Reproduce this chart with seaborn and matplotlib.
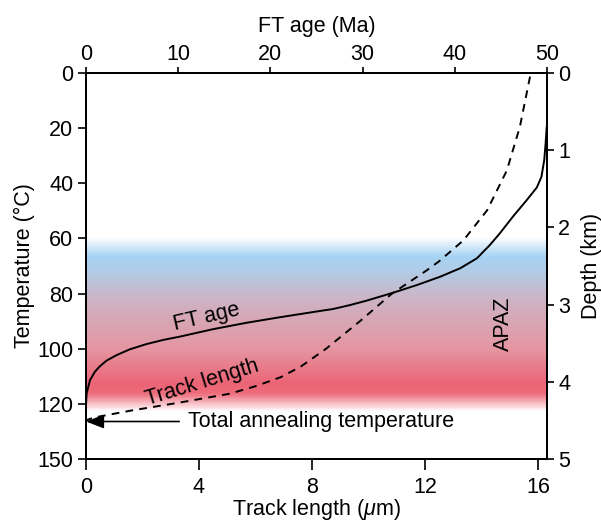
import numpy as np
import pandas as pd
import matplotlib
matplotlib.use("Agg")
import matplotlib.pyplot as plt
from matplotlib.colors import LinearSegmentedColormap
import seaborn as sns

# ---- data ----
ft_age_ma = [49.97, 49.85, 49.7, 49.4, 48.9, 47.8, 46.3, 44.9, 43.8, 42.4, 40.6, 38.4,
             35.9, 33.3, 30.4, 28.6, 26.8, 25.4, 21.0, 17.4, 13.8, 10.2, 8.39, 6.58,
             4.77, 3.33, 2.24, 1.52, 0.98, 0.43, 0.25, 0.07, 0.0]
ft_age_temp = [19.5, 25.5, 31.6, 37.6, 41.5, 46.1, 52.1, 58.1, 62.4, 67.2, 70.8, 73.9,
               76.9, 79.7, 82.6, 84.2, 85.6, 86.3, 88.6, 90.6, 92.9, 95.6, 96.8, 98.3,
               100.2, 102.3, 104.3, 106.3, 108.3, 111.4, 113.8, 116.2, 120.5]

track_len_um = [15.72, 15.36, 14.9, 14.2, 13.36, 12.5, 12.06, 10.82, 9.7, 8.5, 7.6,
                6.9, 6.0, 5.1, 3.33, 1.56, 0.26, 0.0]
track_len_temp = [1.3, 19.5, 35.3, 49.8, 60.7, 68.3, 71.6, 80.1, 90.0, 100.0, 106.5,
                  110.3, 113.6, 116.3, 119.5, 122.5, 125.0, 126.0]

temp_ticks = [0, 20, 40, 60, 80, 100, 120, 140]
temp_tick_labels = ["0", "20", "40", "60", "80", "100", "120", "150"]
track_ticks = [0, 4, 8, 12, 16]
age_ticks = [0, 10, 20, 30, 40, 50]
depth_ticks = [0, 1, 2, 3, 4, 5]
total_annealing_temp = 126.4

sns.set_theme(style="ticks")
plt.rcParams["font.family"] = ["Liberation Sans", "DejaVu Sans"]
plt.rcParams["mathtext.fontset"] = "custom"
plt.rcParams["mathtext.it"] = "Liberation Sans:italic"
plt.rcParams["mathtext.rm"] = "Liberation Sans"
for k in ("text.color", "axes.labelcolor", "xtick.color", "ytick.color", "axes.edgecolor"):
    plt.rcParams[k] = "black"

W, H = 601, 521
fig = plt.figure(figsize=(W / 100, H / 100), dpi=100)
L, R, T, B = 86, 547, 73, 459
ax = fig.add_axes([L / W, 1 - B / H, (R - L) / W, (B - T) / H])
XMAX = 16.32

# background gradient (APAZ)
stops = [(0.0, "#ffffff"), (59.5 / 140, "#ffffff"), (66.5 / 140, "#a6d3f3"),
         (72 / 140, "#b2cce6"), (82 / 140, "#cdb4c5"), (100 / 140, "#e596a2"),
         (113 / 140, "#ec6476"), (116.5 / 140, "#ee6d7d"), (123 / 140, "#ffffff"),
         (1.0, "#ffffff")]
cmap = LinearSegmentedColormap.from_list("apaz", stops)
grad = np.linspace(0, 1, 700).reshape(-1, 1)
ax.imshow(grad, aspect="auto", cmap=cmap, extent=[0, XMAX, 140, 0],
          origin="upper", zorder=0, interpolation="bilinear")
ax.set_xlim(0, XMAX)
ax.set_ylim(140, 0)

# track length dashed curve (bottom axis)
df_tl = pd.DataFrame({"x": track_len_um, "y": track_len_temp})
sns.lineplot(data=df_tl, x="x", y="y", ax=ax, sort=False, estimator=None,
             color="black", lw=1.4, linestyle=(0, (4.0, 3.2)), zorder=3)
ax.set_xlim(0, XMAX)
ax.set_ylim(140, 0)

# top axis: FT age
ax_top = ax.twiny()
df_age = pd.DataFrame({"x": ft_age_ma, "y": ft_age_temp})
sns.lineplot(data=df_age, x="x", y="y", ax=ax_top, sort=False, estimator=None,
             color="black", lw=1.4, zorder=3)
ax_top.set_xlim(0, 50)
ax_top.set_ylim(140, 0)

# right axis: depth
ax_r = ax.twinx()
ax_r.set_ylim(5, 0)

fs = 15.5
ax.set_yticks(temp_ticks)
ax.set_yticklabels(temp_tick_labels)
ax.set_xticks(track_ticks)
ax_top.set_xticks(age_ticks)
ax_r.set_yticks(depth_ticks)

for a in (ax, ax_top, ax_r):
    a.tick_params(direction="out", width=1.2, labelsize=fs, colors="black")
    for s in a.spines.values():
        s.set_linewidth(1.3)
        s.set_color("black")
    a.grid(False)
ax.tick_params(axis="y", length=6, pad=3)
ax.tick_params(axis="x", length=8, pad=5)
ax_top.tick_params(axis="x", length=4.5, pad=1)
ax_r.tick_params(axis="y", length=5, pad=3)

ax.set_xlabel(r"Track length ($\mu$m)", fontsize=fs, labelpad=-1)
ax.set_ylabel("Temperature (°C)", fontsize=fs, labelpad=2)
ax_top.set_xlabel("FT age (Ma)", fontsize=fs, labelpad=9)
ax_top.set_ylabel("")
ax_r.set_ylabel("Depth (km)", fontsize=fs, labelpad=8)

# annotations
ax.annotate("", xy=(0.0, total_annealing_temp), xytext=(3.3, total_annealing_temp),
            arrowprops=dict(arrowstyle="-|>,head_length=0.9,head_width=0.35",
                            color="black", lw=1.2, shrinkA=0, shrinkB=0), zorder=4)
ax.text(3.6, total_annealing_temp, "Total annealing temperature", fontsize=fs,
        va="center", ha="left", zorder=4)
ax.text(4.27, 88.6, "FT age", fontsize=fs, rotation=13, ha="center", va="center", zorder=4)
ax.text(4.1, 112.3, "Track length", fontsize=fs, rotation=17, ha="center", va="center", zorder=4)
ax.text(14.77, 91.0, "APAZ", fontsize=fs, rotation=90, ha="center", va="center", zorder=4)

fig.savefig("out.png", dpi=100)
